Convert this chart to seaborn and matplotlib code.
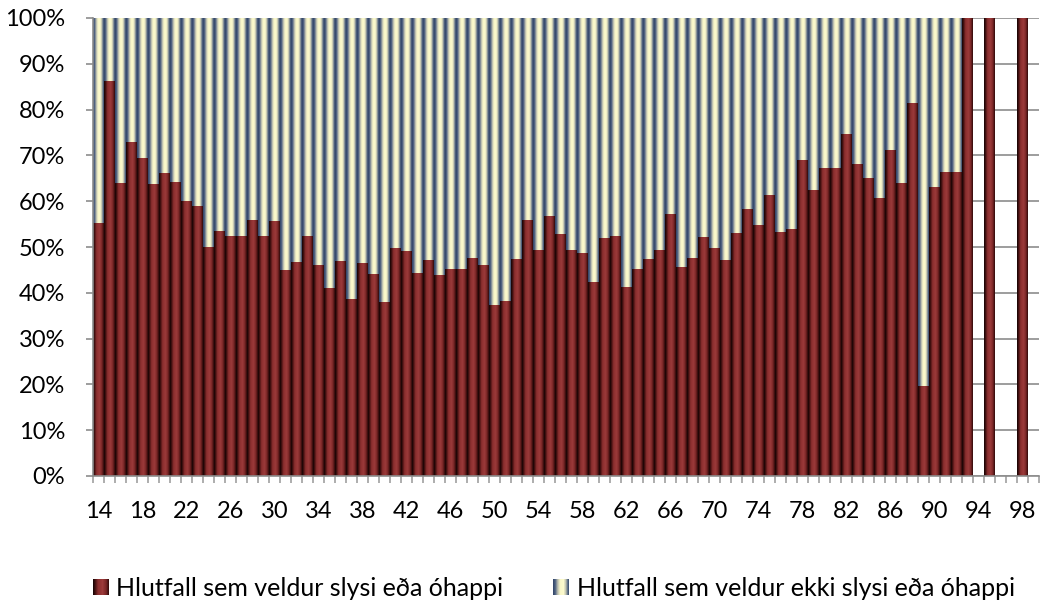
import numpy as np
import pandas as pd
import seaborn as sns
import matplotlib.pyplot as plt
from matplotlib.colors import LinearSegmentedColormap
from matplotlib.patches import Rectangle
from matplotlib.legend_handler import HandlerBase

# ages 14..99, share (%) of drivers that caused the accident, None = no data
ages = [str(a) for a in range(14, 100)]
hlutfall_veldur = [
    55.2, 86.3, 63.9, 73.0, 69.5, 63.7, 66.1, 64.1, 60.0, 58.9,   # 14-23
    49.9, 53.6, 52.3, 52.5, 56.0, 52.5, 55.6, 44.9, 46.7, 52.5,   # 24-33
    46.0, 41.0, 46.9, 38.6, 46.4, 44.0, 37.9, 49.7, 49.1, 44.3,   # 34-43
    47.1, 43.8, 45.3, 45.1, 47.7, 46.0, 37.3, 38.2, 47.3, 56.0,   # 44-53
    49.3, 56.7, 52.8, 49.3, 48.6, 42.3, 51.9, 52.5, 41.2, 45.1,   # 54-63
    47.3, 49.3, 57.1, 45.6, 47.5, 52.1, 49.7, 47.1, 53.0, 58.2,   # 64-73
    54.9, 61.3, 53.2, 53.9, 68.9, 62.4, 67.2, 67.2, 74.6, 68.2,   # 74-83
    65.0, 60.6, 71.1, 63.9, 81.5, 19.6, 63.2, 66.3, 66.3, 100.0,  # 84-93
    None, 100.0, None, None, 100.0, None,                         # 94-99
]
legend_labels = ["Hlutfall sem veldur slysi eða óhappi",
                 "Hlutfall sem veldur ekki slysi eða óhappi"]
y_ticks = list(range(0, 101, 10))

df = pd.DataFrame({"age": ages, "veldur": hlutfall_veldur}).dropna()
df["veldur"] = df["veldur"].astype(float)
df["ekki"] = 100 - df["veldur"]
df["total"] = df["veldur"] + df["ekki"]

# excel-like cylinder shading
red_cmap = LinearSegmentedColormap.from_list("red", [
    (0.0, "#120303"), (0.12, "#3a0d0d"), (0.32, "#8a2e2e"),
    (0.6, "#9c3a3a"), (0.82, "#7a2626"), (1.0, "#2e0909")])
yel_cmap = LinearSegmentedColormap.from_list("yel", [
    (0.0, "#2f4366"), (0.14, "#4d6080"), (0.3, "#b9bcae"), (0.45, "#f8f6c8"),
    (0.66, "#fcfacd"), (0.8, "#c4c5b0"), (0.9, "#6f7f90"), (1.0, "#34486c")])

plt.rcParams['font.family'] = ['Lato', 'DejaVu Sans']
fig = plt.figure(figsize=(10.47, 6.03), dpi=100)
ax = fig.add_axes([93 / 1047, 1 - 476 / 603, 946 / 1047, 458 / 603])

sns.barplot(data=df, x="age", y="total", order=ages, color="#f6f4c6",
            width=1.0, saturation=1, errorbar=None, ax=ax)
n_yel = len(ax.patches)
sns.barplot(data=df, x="age", y="veldur", order=ages, color="#933232",
            width=1.0, saturation=1, errorbar=None, ax=ax)

grad = np.linspace(0, 1, 64).reshape(1, -1)
for i, p in enumerate(list(ax.patches)):
    if p.get_height() <= 0 or np.isnan(p.get_height()):
        continue
    cmap = yel_cmap if i < n_yel else red_cmap
    x0, y0 = p.get_x(), p.get_y()
    im = ax.imshow(grad, cmap=cmap, aspect="auto", interpolation="bilinear",
                   extent=[x0, x0 + p.get_width(), y0, y0 + p.get_height()],
                   zorder=p.get_zorder() + 0.1)
    im.set_clip_path(p)
    p.set_linewidth(0)

ax.set_xlim(-0.5, len(ages) - 0.5)
ax.set_ylim(0, 100)
ax.set_yticks(y_ticks)
ax.set_yticklabels([f"{t}%" for t in y_ticks])
ax.set_xticks(range(0, len(ages), 4))
ax.set_xticklabels(ages[::4])
ax.set_xticks(np.arange(-0.5, len(ages), 1), minor=True)
ax.set_xlabel("")
ax.set_ylabel("")

grid_c = "#8c8c8c"
ax.yaxis.grid(True, color=grid_c, linewidth=1.2)
ax.set_axisbelow(True)
for s in ["top", "right"]:
    ax.spines[s].set_visible(False)
for s in ["left", "bottom"]:
    ax.spines[s].set_color(grid_c)
    ax.spines[s].set_linewidth(1.2)

ax.tick_params(axis="x", which="major", length=0, pad=18, labelsize=17)
ax.tick_params(axis="x", which="minor", length=5, width=1.2, color="#a0a0a0")
ax.tick_params(axis="y", length=5, width=1.2, color=grid_c, pad=15, labelsize=17)


class GradHandler(HandlerBase):
    def __init__(self, cmap):
        super().__init__()
        self.cmap = cmap

    def create_artists(self, legend, orig_handle, xdescent, ydescent,
                       width, height, fontsize, trans):
        n = 16
        arts = []
        for k in range(n):
            r = Rectangle((-xdescent + width * k / n, -ydescent), width / n + 0.2,
                          height, facecolor=self.cmap((k + 0.5) / n),
                          edgecolor="none", transform=trans)
            arts.append(r)
        return arts


h1 = Rectangle((0, 0), 1, 1)
h2 = Rectangle((0, 0), 1, 1)
fig.legend([h1, h2], legend_labels, ncol=2, frameon=False, fontsize=18,
           loc="center", bbox_to_anchor=(0.5287, 0.024),
           handlelength=0.64, handleheight=0.6, handletextpad=0.3,
           columnspacing=2.0,
           handler_map={h1: GradHandler(red_cmap), h2: GradHandler(yel_cmap)})

fig.savefig("out.png", dpi=100)
